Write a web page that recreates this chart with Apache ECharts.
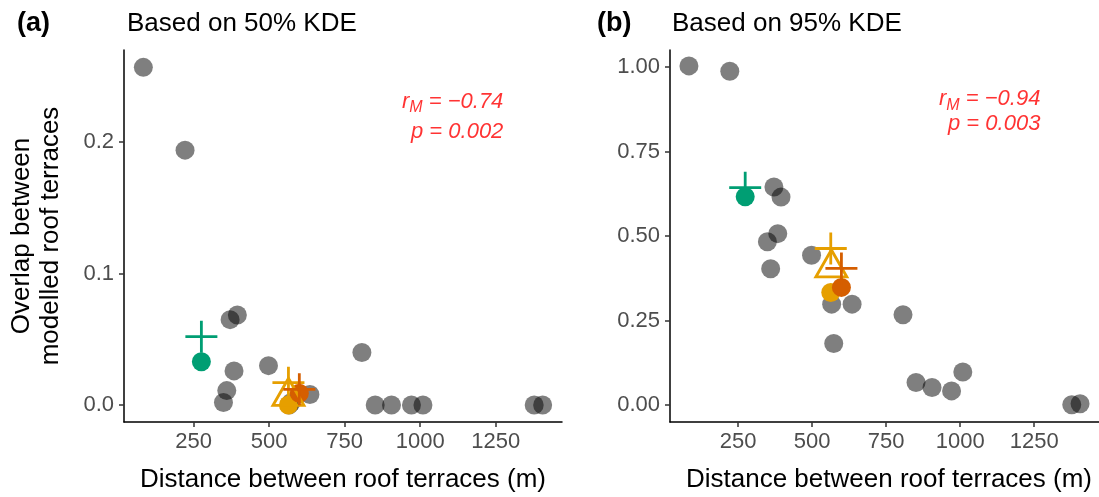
<!DOCTYPE html>
<html>
<head>
<meta charset="utf-8">
<script src="https://cdn.jsdelivr.net/npm/echarts@6/dist/echarts.min.js"></script>
<style>
html, body { margin: 0; padding: 0; background: #fff; }
#main { width: 1099px; height: 497px; }
</style>
</head>
<body>
<div id="main"></div>
<script>
// distance between roof terrace pairs (m), same pairs in both panels
var distances = [84, 222, 371, 395, 384, 349, 360, 498, 566, 635, 573, 807, 851, 905, 971, 1009, 1377, 1405];
// overlap of the modelled roof terraces
var overlap50 = [0.257, 0.194, 0.065, 0.0685, 0.026, 0.002, 0.011, 0.030, 0.0, 0.008, 0.002, 0.040, 0, 0, 0, 0, 0, 0];
var overlap95 = [1.003, 0.987, 0.645, 0.615, 0.507, 0.483, 0.403, 0.443, 0.2985, 0.2985, 0.182, 0.267, 0.067, 0.052, 0.042, 0.098, 0.001, 0.004];

// modelled terraces: green, yellow, orange
var modelColors = ['#009E73', '#E69F00', '#D55E00'];
var circle50 = [[276, 0.033], [564, 0.0], [600, 0.009]];
var plus50 = [[276, 0.052], [564, 0.017], [600, 0.012]];
var triangle50 = [[564, 0.010]];
var circle95 = [[274, 0.616], [563, 0.333], [599, 0.348]];
var plus95 = [[274, 0.643], [563, 0.463], [599, 0.404]];
var triangle95 = [[565, 0.419]];

// axis ticks
var xTicks = [250, 500, 750, 1000, 1250];
var yTicks50 = [0, 0.1, 0.2];
var yTicks95 = [0, 0.25, 0.5, 0.75, 1];

// Mantel test results
var mantelR = ['\u22120.74', '\u22120.94'];
var mantelP = ['0.002', '0.003'];

var FONT = '"Liberation Sans", Arial, Helvetica, sans-serif';
var plusPath = 'path://M10,0L10,20M0,10L20,10';

var chart = echarts.init(document.getElementById('main'));

function xAxisFor(i) {
    return {
        gridIndex: i, type: 'value', min: 20, max: 1469,
        axisLine: { onZero: false, lineStyle: { color: '#000', width: 1.5 } },
        axisTick: { customValues: xTicks, length: 5, lineStyle: { color: '#333', width: 1.5 } },
        axisLabel: {
            customValues: xTicks, margin: 9, color: '#4d4d4d', fontSize: 22, fontFamily: FONT,
            formatter: function (v) { return String(v); }
        },
        splitLine: { show: false }
    };
}
function yAxisFor(i, min, max, ticks, digits) {
    return {
        gridIndex: i, type: 'value', min: min, max: max,
        axisLine: { show: true, onZero: false, lineStyle: { color: '#000', width: 1.5 } },
        axisTick: { show: true, customValues: ticks, length: 5, lineStyle: { color: '#333', width: 1.5 } },
        axisLabel: {
            customValues: ticks, margin: 10, color: '#4d4d4d', fontSize: 22, fontFamily: FONT,
            formatter: function (v) { return v.toFixed(digits); }
        },
        splitLine: { show: false }
    };
}

function coloured(points, key) {
    return points.map(function (p, k) {
        var st = {};
        st[key] = modelColors[k];
        return { value: p, itemStyle: st };
    });
}

function panelSeries(i, ys, circles, triangles, pluses) {
    var gray = distances.map(function (d, k) { return [d, ys[k]]; });
    return [
        {
            type: 'scatter', xAxisIndex: i, yAxisIndex: i, data: gray,
            symbolSize: 19, itemStyle: { color: 'rgba(0,0,0,0.5)', opacity: 1 }, silent: true
        },
        {
            type: 'scatter', xAxisIndex: i, yAxisIndex: i, data: coloured(circles, 'color'),
            symbolSize: 19, itemStyle: { opacity: 1 }, silent: true
        },
        {
            type: 'scatter', xAxisIndex: i, yAxisIndex: i, symbol: 'triangle', symbolSize: [31, 27],
            data: triangles.map(function (p) { return { value: p, itemStyle: { borderColor: modelColors[1] } }; }),
            itemStyle: { color: 'rgba(0,0,0,0)', borderWidth: 2.8, opacity: 1 }, silent: true
        },
        {
            type: 'scatter', xAxisIndex: i, yAxisIndex: i, symbol: plusPath, symbolSize: 32,
            data: coloured(pluses, 'borderColor'),
            itemStyle: { color: 'rgba(0,0,0,0)', borderWidth: 2.8, opacity: 1 }, silent: true
        }
    ];
}

function mantelSeries(i, x, yR, yP) {
    var rich = {
        i: { fontStyle: 'italic', fontSize: 22, color: '#ff0000', fontFamily: FONT, lineHeight: 28, align: 'right' },
        s: { fontStyle: 'italic', fontSize: 16, color: '#ff0000', fontFamily: FONT, lineHeight: 16, verticalAlign: 'bottom', align: 'right' }
    };
    return {
        type: 'scatter', xAxisIndex: i, yAxisIndex: i, symbolSize: 0, silent: true,
        data: [
            { value: [x, yR], label: { formatter: '{i|r}{s|M}{i| = ' + mantelR[i] + '}' } },
            { value: [x, yP], label: { formatter: '{i|p = ' + mantelP[i] + '}' } }
        ],
        label: { show: true, position: 'left', distance: 0, align: 'right', verticalAlign: 'middle', rich: rich }
    };
}

function txt(x, y, s, size, extra) {
    var style = { text: s, fill: '#000', fontSize: size, fontFamily: FONT, align: 'left', verticalAlign: 'middle' };
    for (var k in extra) style[k] = extra[k];
    return { type: 'text', x: x, y: y, style: style, silent: true };
}

var option = {
    animation: false,
    backgroundColor: '#fff',
    grid: [
        { left: 124, top: 50, width: 438, height: 372 },
        { left: 670, top: 50, width: 438, height: 372 }
    ],
    xAxis: [xAxisFor(0), xAxisFor(1)],
    yAxis: [
        yAxisFor(0, -0.0129, 0.2702, yTicks50, 1),
        yAxisFor(1, -0.05, 1.05, yTicks95, 2)
    ],
    graphic: [
        txt(17, 24, '(a)', 27, { fontWeight: 'bold' }),
        txt(127, 24, 'Based on 50% KDE', 26),
        txt(597, 24, '(b)', 27, { fontWeight: 'bold' }),
        txt(672, 24, 'Based on 95% KDE', 26),
        txt(343, 480, 'Distance between roof terraces (m)', 26, { align: 'center' }),
        txt(889, 480, 'Distance between roof terraces (m)', 26, { align: 'center' }),
        {
            type: 'text', x: 36, y: 236, rotation: Math.PI / 2, silent: true,
            style: {
                text: 'Overlap between\nmodelled roof terraces', fill: '#000', fontSize: 26, fontFamily: FONT,
                align: 'center', verticalAlign: 'middle', lineHeight: 29
            }
        }
    ],
    series: []
        .concat(panelSeries(0, overlap50, circle50, triangle50, plus50))
        .concat(panelSeries(1, overlap95, circle95, triangle95, plus95))
        .concat([mantelSeries(0, 1275, 0.231, 0.208), mantelSeries(1, 1271, 0.904, 0.833)])
};

chart.setOption(option);
</script>
</body>
</html>
